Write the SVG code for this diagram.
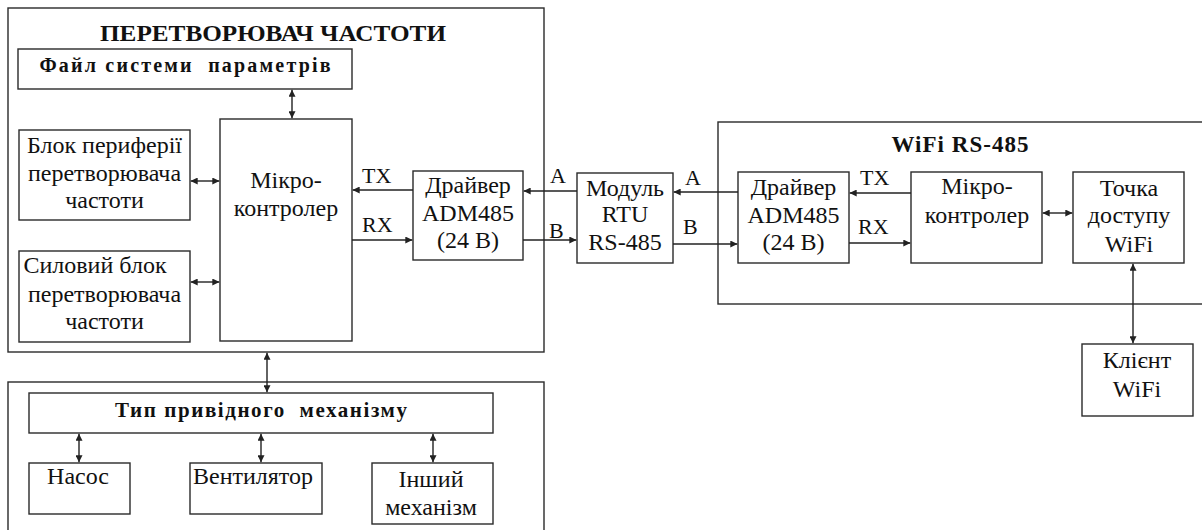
<svg xmlns="http://www.w3.org/2000/svg" width="1202" height="530" viewBox="0 0 1202 530">
<style>
.b{fill:#fff;stroke:#2a2a2a;stroke-width:1.4}
.t{font-family:"Liberation Serif","Times New Roman",serif;font-size:24px;fill:#111;text-anchor:middle}
.bt{font-family:"Liberation Serif","Times New Roman",serif;font-weight:bold;fill:#111;text-anchor:middle;white-space:pre}
.l{font-family:"Liberation Serif","Times New Roman",serif;font-size:22px;fill:#111}
.c{stroke:#222;stroke-width:1.4;fill:none}
.a{marker-end:url(#ah)}
.d{marker-start:url(#ah);marker-end:url(#ah)}
</style>
<defs>
<marker id="ah" viewBox="0 0 10 10" refX="10" refY="5" markerWidth="7" markerHeight="7" markerUnits="userSpaceOnUse" orient="auto-start-reverse">
<path d="M0,0 L10,5 L0,10 z" fill="#222"/>
</marker>
</defs>
<rect width="1202" height="530" fill="#fff"/>

<g id="converter">
<rect class="b" x="8" y="8" width="536" height="344"/>
<text class="bt" x="273" y="41" font-size="24" textLength="346" lengthAdjust="spacingAndGlyphs">ПЕРЕТВОРЮВАЧ ЧАСТОТИ</text>
</g>
<g id="param-file">
<rect class="b" x="18" y="49" width="334" height="40"/>
<text class="bt" x="185" y="72" font-size="20" textLength="291">Файл системи  параметрів</text>
</g>
<g id="periphery">
<rect class="b" x="19" y="130" width="171" height="90"/>
<text class="t" x="104.5" y="153">Блок периферії</text>
<text class="t" x="104.5" y="181">перетворювача</text>
<text class="t" x="104.5" y="208">частоти</text>
</g>
<g id="power">
<rect class="b" x="19" y="251" width="171" height="91"/>
<text class="t" x="95" y="273">Силовий блок</text>
<text class="t" x="104.5" y="302">перетворювача</text>
<text class="t" x="104.5" y="329">частоти</text>
</g>
<g id="mcu1">
<rect class="b" x="220" y="119" width="132" height="222"/>
<text class="t" x="286" y="188">Мікро-</text>
<text class="t" x="286" y="216">контролер</text>
</g>
<g id="driver1">
<rect class="b" x="413" y="171" width="110" height="89"/>
<text class="t" x="468" y="193">Драйвер</text>
<text class="t" x="468" y="221">ADM485</text>
<text class="t" x="468" y="248">(24 В)</text>
</g>
<g id="rtu">
<rect class="b" x="577" y="173" width="96" height="90"/>
<text class="t" x="625" y="196">Модуль</text>
<text class="t" x="625" y="222">RTU</text>
<text class="t" x="625" y="250">RS-485</text>
</g>
<g id="wifi-rs485">
<rect class="b" x="718" y="122" width="500" height="182"/>
<text class="bt" x="960" y="152" font-size="23" textLength="137">WiFi RS-485</text>
</g>
<g id="driver2">
<rect class="b" x="738" y="172" width="111" height="91"/>
<text class="t" x="793.5" y="195">Драйвер</text>
<text class="t" x="793.5" y="223">ADM485</text>
<text class="t" x="793.5" y="250">(24 В)</text>
</g>
<g id="mcu2">
<rect class="b" x="911" y="172" width="131" height="91"/>
<text class="t" x="977" y="194">Мікро-</text>
<text class="t" x="977" y="223">контролер</text>
</g>
<g id="ap">
<rect class="b" x="1073" y="172" width="111" height="91"/>
<text class="t" x="1129" y="196">Точка</text>
<text class="t" x="1129" y="223">доступу</text>
<text class="t" x="1129" y="252">WiFi</text>
</g>
<g id="client">
<rect class="b" x="1082" y="344" width="111" height="72"/>
<text class="t" x="1137" y="368">Клієнт</text>
<text class="t" x="1137" y="397">WiFi</text>
</g>
<g id="drive-type-frame">
<rect class="b" x="8" y="382" width="536" height="160"/>
</g>
<g id="drive-type">
<rect class="b" x="29" y="393" width="464" height="40"/>
<text class="bt" x="261" y="417" font-size="21" textLength="292">Тип привідного  механізму</text>
</g>
<g id="pump">
<rect class="b" x="29" y="463" width="101" height="51"/>
<text class="t" x="78" y="484">Насос</text>
</g>
<g id="fan">
<rect class="b" x="190" y="463" width="132" height="51"/>
<text class="t" x="253" y="484">Вентилятор</text>
</g>
<g id="other">
<rect class="b" x="372" y="463" width="121" height="61"/>
<text class="t" x="431" y="487">Інший</text>
<text class="t" x="431" y="515">механізм</text>
</g>

<g id="connectors">
<line class="c d" x1="292" y1="89.7" x2="292" y2="118.3"/>
<line class="c d" x1="190.7" y1="181" x2="219.3" y2="181"/>
<line class="c d" x1="190.7" y1="282" x2="219.3" y2="282"/>
<line class="c a" x1="413" y1="190" x2="352.7" y2="190"/>
<line class="c a" x1="352" y1="240" x2="412.3" y2="240"/>
<line class="c a" x1="577" y1="191" x2="523.7" y2="191"/>
<line class="c a" x1="523" y1="240" x2="576.3" y2="240"/>
<line class="c a" x1="738" y1="192" x2="673.7" y2="192"/>
<line class="c a" x1="673" y1="244" x2="737.3" y2="244"/>
<line class="c a" x1="911" y1="193" x2="849.7" y2="193"/>
<line class="c a" x1="849" y1="243" x2="910.3" y2="243"/>
<line class="c d" x1="1042.7" y1="213" x2="1072.3" y2="213"/>
<line class="c d" x1="1133" y1="263.7" x2="1133" y2="343.3"/>
<line class="c d" x1="267" y1="352.7" x2="267" y2="392.3"/>
<line class="c d" x1="79" y1="433.7" x2="79" y2="462.3"/>
<line class="c d" x1="261" y1="433.7" x2="261" y2="462.3"/>
<line class="c d" x1="433" y1="433.7" x2="433" y2="462.3"/>
<text class="l" x="362" y="183">TX</text>
<text class="l" x="362" y="232">RX</text>
<text class="l" x="550" y="183">A</text>
<text class="l" x="549" y="238">B</text>
<text class="l" x="685" y="185">A</text>
<text class="l" x="683" y="234">B</text>
<text class="l" x="860" y="185">TX</text>
<text class="l" x="858" y="234">RX</text>
</g>
</svg>
